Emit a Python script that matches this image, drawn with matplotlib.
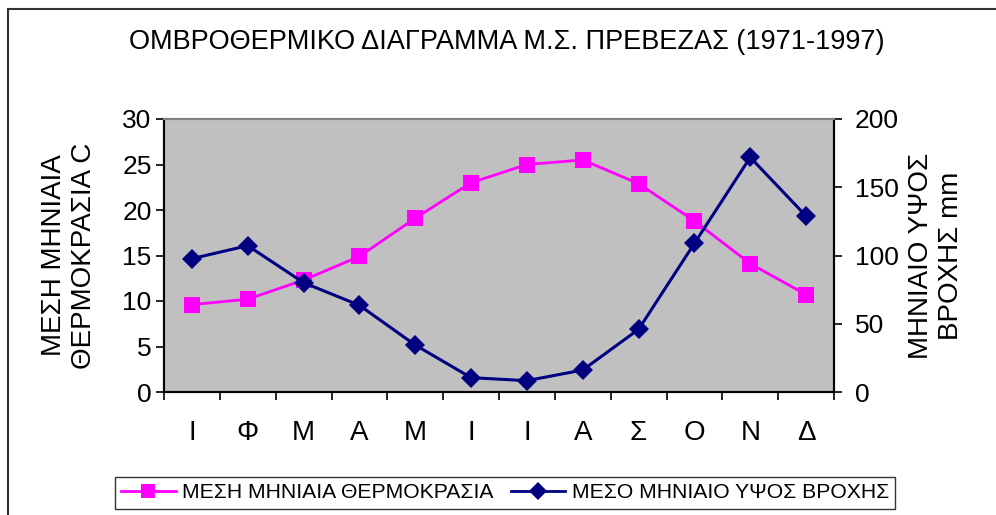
import numpy as np
import matplotlib
matplotlib.use("agg")
import matplotlib.pyplot as plt
from matplotlib.patches import Rectangle
from matplotlib.lines import Line2D

plt.rcParams["font.family"] = ["Liberation Sans", "DejaVu Sans"]

# data
months = ["Ι", "Φ", "Μ", "Α", "Μ", "Ι", "Ι", "Α", "Σ", "Ο", "Ν", "Δ"]
temp = [9.6, 10.2, 12.3, 14.9, 19.1, 23.0, 25.0, 25.5, 22.9, 18.8, 14.1, 10.7]
rain = [97.7, 107.2, 80.1, 63.5, 34.4, 10.5, 8.3, 16.1, 45.9, 108.9, 171.9, 128.9]

temp_label = "ΜΕΣΗ ΜΗΝΙΑΙΑ ΘΕΡΜΟΚΡΑΣΙΑ"
rain_label = "ΜΕΣΟ ΜΗΝΙΑΙΟ ΥΨΟΣ ΒΡΟΧΗΣ"
title = "ΟΜΒΡΟΘΕΡΜΙΚΟ ΔΙΑΓΡΑΜΜΑ Μ.Σ. ΠΡΕΒΕΖΑΣ (1971-1997)"

W, H = 996, 515
fig = plt.figure(figsize=(W / 100, H / 100), dpi=100)

# outer chart border (runs off the right and bottom edges)
fig.patches.append(Rectangle((8 / W, -0.1), 1.2, 1 - 9 / H + 0.1,
                             transform=fig.transFigure, fill=False,
                             edgecolor="#333333", linewidth=1.5))

ax = fig.add_axes([164 / W, 1 - 392 / H, (834 - 164) / W, (392 - 119) / H])
ax.set_facecolor("#c0c0c0")
x = np.arange(len(months))

ax.plot(x, temp, color="#ff00ff", lw=2, marker="s", ms=11,
        markeredgewidth=0, label=temp_label, zorder=3)
ax.set_xlim(-0.5, len(months) - 0.5)
ax.set_ylim(0, 30)
ax.set_yticks(np.arange(0, 31, 5))
ax.tick_params(axis="y", direction="out", length=6, width=1.2, pad=3, labelsize=19)

# ticks between categories, labels at centers
ax.set_xticks(np.arange(-0.5, len(months), 1))
ax.set_xticklabels([])
ax.tick_params(axis="x", which="major", direction="out", length=6, width=1.2)
ax.set_xticks(x, minor=True)
ax.set_xticklabels(months, minor=True)
ax.tick_params(axis="x", which="minor", length=0, pad=20, labelsize=20)

ax.set_ylabel("ΜΕΣΗ ΜΗΝΙΑΙΑ\nΘΕΡΜΟΚΡΑΣΙΑ C", fontsize=20, linespacing=1.2)
ax.yaxis.set_label_coords(-0.1, 0.5)

ax2 = ax.twinx()
ax2.plot(x, rain, color="#000080", lw=2.2, marker="D", ms=10,
         markeredgewidth=0, label=rain_label, zorder=3)
ax2.set_ylim(0, 200)
ax2.set_yticks(np.arange(0, 201, 50))
ax2.tick_params(axis="y", direction="out", length=6, width=1.2, pad=9, labelsize=19)
ax2.set_ylabel("ΜΗΝΙΑΙΟ ΥΨΟΣ\nΒΡΟΧΗΣ mm", fontsize=20, linespacing=1.2,
               rotation=90)
ax2.yaxis.set_label_coords(1.11, 0.5)

for a in (ax, ax2):
    a.spines["top"].set_color("#808080")
    a.spines["top"].set_linewidth(1.5)
    for s in ("left", "right", "bottom"):
        a.spines[s].set_color("black")
        a.spines[s].set_linewidth(1.5)

fig.text(507 / W, 1 - 42 / H, title, ha="center", va="center", fontsize=19.5)

handles = [Line2D([], [], color="#ff00ff", lw=2, marker="s", ms=10, markeredgewidth=0),
           Line2D([], [], color="#000080", lw=2, marker="D", ms=9, markeredgewidth=0)]
leg = fig.legend(handles, [temp_label, rain_label], loc="center",
                 bbox_to_anchor=(505 / W, 1 - 493 / H), ncol=2, fontsize=15.2,
                 frameon=True, fancybox=False, handlelength=2.6,
                 handletextpad=0.3, columnspacing=0.8, borderpad=0.3)
leg.get_frame().set_edgecolor("black")
leg.get_frame().set_linewidth(1.0)

fig.savefig("out.png", dpi=100)
